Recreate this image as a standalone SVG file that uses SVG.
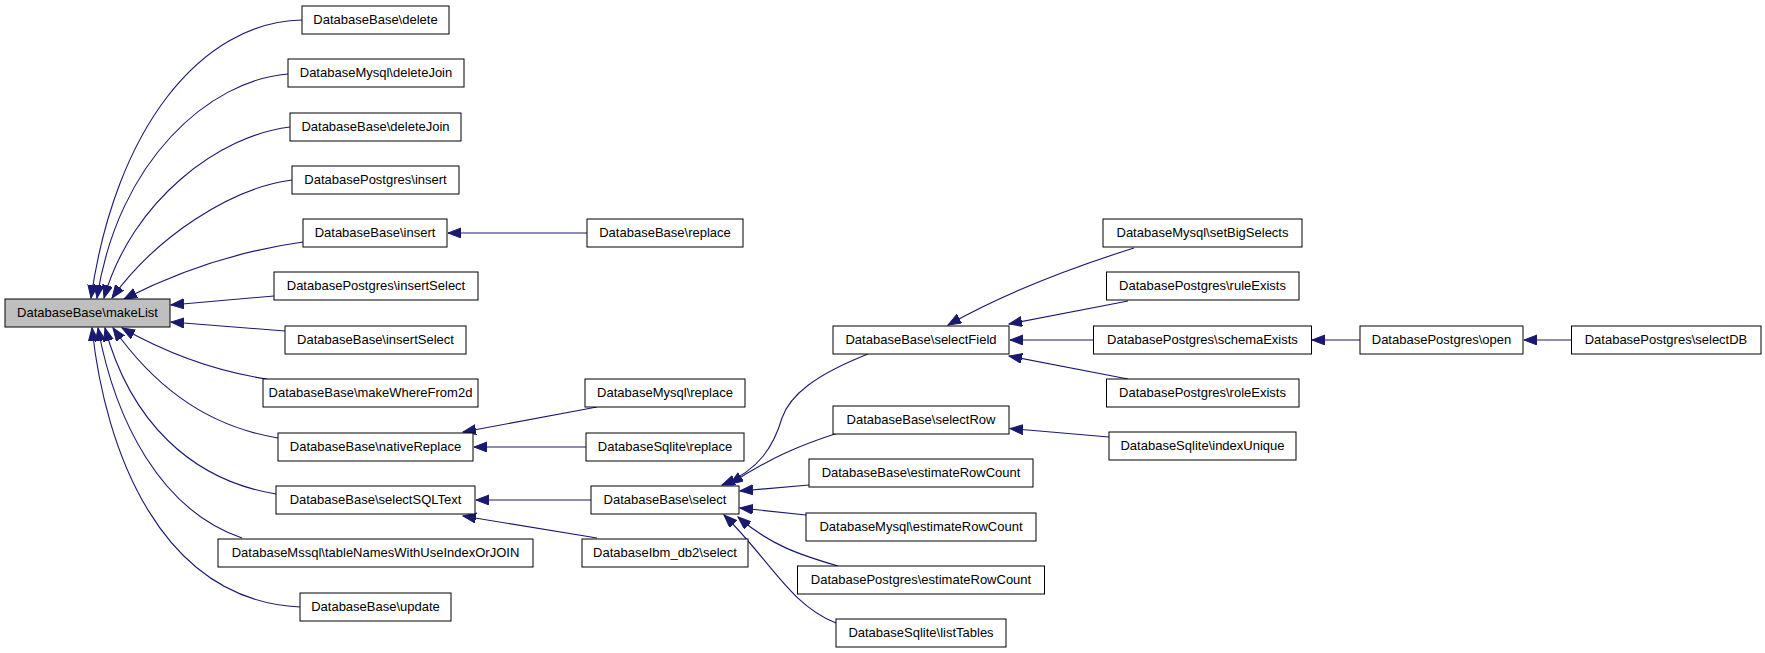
<svg xmlns="http://www.w3.org/2000/svg" width="1765" height="653" viewBox="0 0 1765 653">
<style>
.n rect{fill:#ffffff;stroke:#000000;stroke-width:1}
.n.hl rect{fill:#bfbfbf}
.n text{font-family:"Liberation Sans",Arial,sans-serif;font-size:13px;fill:#000000;text-anchor:middle}
.e path{fill:none;stroke:#191970;stroke-width:1.1;marker-end:url(#ah)}
</style>
<defs>
<marker id="ah" markerUnits="userSpaceOnUse" markerWidth="15" markerHeight="12" refX="13" refY="5" orient="auto">
<path d="M0,0 L13,5 L0,10 z" fill="#191970" stroke="#191970" stroke-width="1"/>
</marker>
</defs>
<rect width="1765" height="653" fill="#ffffff"/>
<g id="edges" class="e">
<path d="M302,20 C200,22 115,130 91,298"/>
<path d="M288,74 C210,80 118,160 97,298"/>
<path d="M290,127 C220,135 132,200 104,298"/>
<path d="M292,180 C230,188 155,238 112,298"/>
<path d="M303,242 C245,250 185,268 124,299"/>
<path d="M274,296 L171,305"/>
<path d="M285,331 L171,322"/>
<path d="M267,379 C220,372 170,355 122,328"/>
<path d="M278,438 C200,425 150,380 113,328"/>
<path d="M276,494 C190,480 130,420 105,328"/>
<path d="M242,538 C160,510 115,420 98,328"/>
<path d="M300,607 C160,600 105,450 92,328"/>
<path d="M587,233 L448,233"/>
<path d="M597,407 L463,432"/>
<path d="M586,447 L474,447"/>
<path d="M591,500 L476,500"/>
<path d="M597,538 L463,516"/>
<path d="M868,354 C815,375 790,395 782,418 C774,445 760,470 722,485"/>
<path d="M838,433 C800,445 770,458 730,484"/>
<path d="M809,485 L740,491"/>
<path d="M806,515 L740,508"/>
<path d="M838,566 C800,555 770,545 738,517"/>
<path d="M836,623 C790,605 770,560 724,515"/>
<path d="M1134,248 C1080,265 1010,290 948,325"/>
<path d="M1128,301 L1009,324"/>
<path d="M1094,340 L1010,340"/>
<path d="M1128,379 L1009,356"/>
<path d="M1109,437 L1010,428.5"/>
<path d="M1360,340 L1312,340"/>
<path d="M1572,340 L1524,340"/>
</g>
<g id="makeList" class="n hl"><rect x="5" y="299" width="165" height="28"/><text x="87.5" y="317">DatabaseBase\makeList</text></g>
<g id="delete" class="n"><rect x="302" y="6" width="147" height="28"/><text x="375.5" y="24">DatabaseBase\delete</text></g>
<g id="mysqlDeleteJoin" class="n"><rect x="288" y="59" width="176" height="28"/><text x="376" y="77">DatabaseMysql\deleteJoin</text></g>
<g id="baseDeleteJoin" class="n"><rect x="290" y="113" width="171" height="28"/><text x="375.5" y="131">DatabaseBase\deleteJoin</text></g>
<g id="postgresInsert" class="n"><rect x="292" y="166" width="167" height="28"/><text x="375.5" y="184">DatabasePostgres\insert</text></g>
<g id="baseInsert" class="n"><rect x="303" y="219" width="144" height="28"/><text x="375" y="237">DatabaseBase\insert</text></g>
<g id="postgresInsertSelect" class="n"><rect x="274" y="272" width="204" height="28"/><text x="376" y="290">DatabasePostgres\insertSelect</text></g>
<g id="baseInsertSelect" class="n"><rect x="285" y="326" width="181" height="28"/><text x="375.5" y="344">DatabaseBase\insertSelect</text></g>
<g id="makeWhereFrom2d" class="n"><rect x="263" y="379" width="215" height="28"/><text x="370.5" y="397">DatabaseBase\makeWhereFrom2d</text></g>
<g id="nativeReplace" class="n"><rect x="278" y="433" width="195" height="28"/><text x="375.5" y="451">DatabaseBase\nativeReplace</text></g>
<g id="selectSQLText" class="n"><rect x="276" y="486" width="199" height="28"/><text x="375.5" y="504">DatabaseBase\selectSQLText</text></g>
<g id="tableNames" class="n"><rect x="218" y="539" width="315" height="28"/><text x="375.5" y="557">DatabaseMssql\tableNamesWithUseIndexOrJOIN</text></g>
<g id="update" class="n"><rect x="300" y="593" width="151" height="28"/><text x="375.5" y="611">DatabaseBase\update</text></g>
<g id="baseReplace" class="n"><rect x="587" y="219" width="156" height="28"/><text x="665" y="237">DatabaseBase\replace</text></g>
<g id="mysqlReplace" class="n"><rect x="585" y="379" width="160" height="28"/><text x="665" y="397">DatabaseMysql\replace</text></g>
<g id="sqliteReplace" class="n"><rect x="586" y="433" width="158" height="28"/><text x="665" y="451">DatabaseSqlite\replace</text></g>
<g id="baseSelect" class="n"><rect x="591" y="486" width="148" height="28"/><text x="665" y="504">DatabaseBase\select</text></g>
<g id="ibmSelect" class="n"><rect x="582" y="539" width="166" height="28"/><text x="665" y="557">DatabaseIbm_db2\select</text></g>
<g id="selectField" class="n"><rect x="833" y="326" width="176" height="28"/><text x="921" y="344">DatabaseBase\selectField</text></g>
<g id="selectRow" class="n"><rect x="833" y="406" width="176" height="28"/><text x="921" y="424">DatabaseBase\selectRow</text></g>
<g id="baseEstimate" class="n"><rect x="809" y="459" width="224" height="28"/><text x="921" y="477">DatabaseBase\estimateRowCount</text></g>
<g id="mysqlEstimate" class="n"><rect x="806" y="513" width="230" height="28"/><text x="921" y="531">DatabaseMysql\estimateRowCount</text></g>
<g id="postgresEstimate" class="n"><rect x="797.5" y="566" width="247" height="28"/><text x="921" y="584">DatabasePostgres\estimateRowCount</text></g>
<g id="listTables" class="n"><rect x="836" y="619" width="170" height="28"/><text x="921" y="637">DatabaseSqlite\listTables</text></g>
<g id="setBigSelects" class="n"><rect x="1103" y="219" width="199" height="28"/><text x="1202.5" y="237">DatabaseMysql\setBigSelects</text></g>
<g id="ruleExists" class="n"><rect x="1106.5" y="272" width="192.5" height="28"/><text x="1202.5" y="290">DatabasePostgres\ruleExists</text></g>
<g id="schemaExists" class="n"><rect x="1093.5" y="326" width="218" height="28"/><text x="1202.5" y="344">DatabasePostgres\schemaExists</text></g>
<g id="roleExists" class="n"><rect x="1106.5" y="379" width="192.5" height="28"/><text x="1202.5" y="397">DatabasePostgres\roleExists</text></g>
<g id="indexUnique" class="n"><rect x="1109" y="432" width="187" height="28"/><text x="1202.5" y="450">DatabaseSqlite\indexUnique</text></g>
<g id="open" class="n"><rect x="1360" y="326" width="163" height="28"/><text x="1441.5" y="344">DatabasePostgres\open</text></g>
<g id="selectDB" class="n"><rect x="1571.5" y="326" width="189.5" height="28"/><text x="1666" y="344">DatabasePostgres\selectDB</text></g>
</svg>
